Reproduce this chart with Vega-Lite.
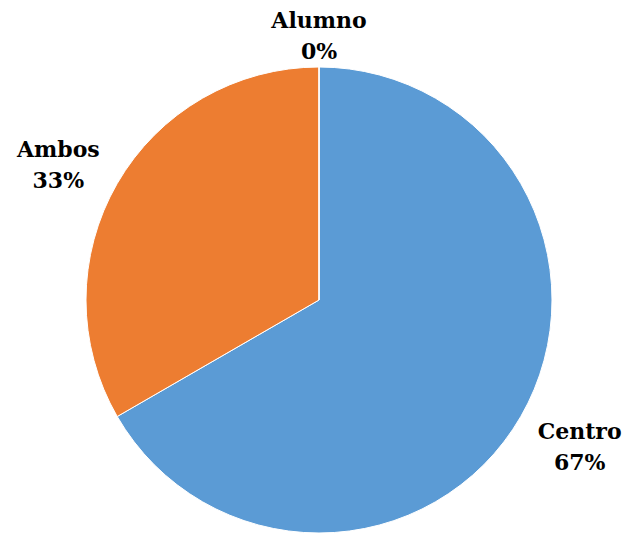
{
  "$schema": "https://vega.github.io/schema/vega-lite/v6.json",
  "width": 466,
  "height": 464,
  "autosize": {"type": "none"},
  "padding": {"left": 86, "top": 68, "right": 74, "bottom": 1},
  "background": "white",
  "view": {"stroke": null},
  "data": {
    "values": [
      {"categoria": "Centro", "valor": 2, "orden": 1, "etiqueta": "Centro\n67%"},
      {"categoria": "Ambos", "valor": 1, "orden": 2, "etiqueta": "Ambos\n33%"},
      {"categoria": "Alumno", "valor": 0, "orden": 3, "etiqueta": "Alumno\n0%"}
    ]
  },
  "encoding": {
    "theta": {"field": "valor", "type": "quantitative", "stack": true},
    "order": {"field": "orden", "type": "quantitative"}
  },
  "layer": [
    {
      "mark": {"type": "arc", "radius": 233, "stroke": "white", "strokeWidth": 1},
      "encoding": {
        "color": {
          "field": "categoria",
          "type": "nominal",
          "scale": {"domain": ["Centro", "Ambos", "Alumno"], "range": ["#5B9BD5", "#ED7D31", "#A5A5A5"]},
          "legend": null
        }
      }
    },
    {
      "mark": {"type": "text", "radius": 301, "dy": -19, "font": "DejaVu Serif", "fontWeight": "bold", "fontSize": 22, "lineHeight": 31, "lineBreak": "\n", "color": "black", "align": "center", "baseline": "middle"},
      "encoding": {"text": {"condition": {"test": "datum.categoria == 'Centro'", "field": "etiqueta"}, "value": ""}}
    },
    {
      "mark": {"type": "text", "radius": 301, "dy": 0, "font": "DejaVu Serif", "fontWeight": "bold", "fontSize": 22, "lineHeight": 31, "lineBreak": "\n", "color": "black", "align": "center", "baseline": "middle"},
      "encoding": {"text": {"condition": {"test": "datum.categoria == 'Ambos'", "field": "etiqueta"}, "value": ""}}
    },
    {
      "mark": {"type": "text", "radius": 279, "dy": 0, "font": "DejaVu Serif", "fontWeight": "bold", "fontSize": 22, "lineHeight": 31, "lineBreak": "\n", "color": "black", "align": "center", "baseline": "middle"},
      "encoding": {"text": {"condition": {"test": "datum.categoria == 'Alumno'", "field": "etiqueta"}, "value": ""}}
    }
  ]
}
